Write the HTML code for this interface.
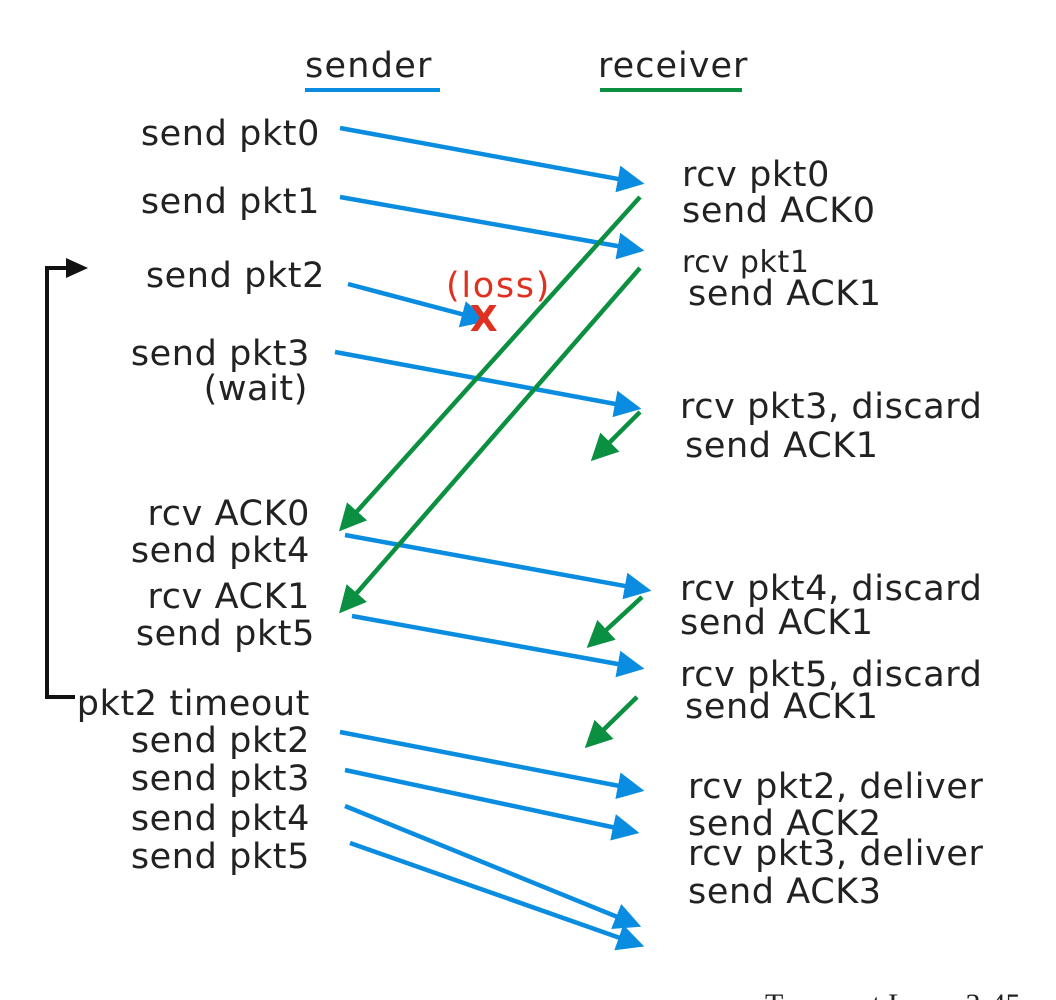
<!DOCTYPE html>
<html><head><meta charset="utf-8"><style>
html,body{margin:0;padding:0;background:#fff;}
svg{display:block}
text{font-family:"DejaVu Sans",sans-serif;font-size:35px;letter-spacing:0.6px;fill:#222;}
.e{text-anchor:end}
</style></head><body>
<svg width="1056" height="1000" viewBox="0 0 1056 1000" xmlns="http://www.w3.org/2000/svg">
<defs>
<marker id="b" markerWidth="6" markerHeight="6" refX="5" refY="3" orient="auto" markerUnits="strokeWidth"><path d="M0,0 L6,3 L0,6 z" fill="#0a8de0"/></marker>
<marker id="g" markerWidth="6" markerHeight="6" refX="5" refY="3" orient="auto" markerUnits="strokeWidth"><path d="M0,0 L6,3 L0,6 z" fill="#0a9040"/></marker>
</defs>
<text x="305" y="77" textLength="127">sender</text>
<line x1="305" y1="90" x2="440" y2="90" stroke="#0a8de0" stroke-width="4"/>
<text x="598" y="77" textLength="150">receiver</text>
<line x1="600" y1="90" x2="742" y2="90" stroke="#0a9040" stroke-width="4"/>

<g stroke="#0a8de0" stroke-width="4.5" marker-end="url(#b)" fill="none">
<line x1="340" y1="128" x2="640" y2="183"/>
<line x1="340" y1="197" x2="640" y2="250"/>
<line x1="348" y1="284" x2="484" y2="320"/>
<line x1="335" y1="352" x2="637" y2="408"/>
<line x1="345" y1="535" x2="647" y2="590"/>
<line x1="352" y1="616" x2="640" y2="668"/>
<line x1="340" y1="732" x2="640" y2="790"/>
<line x1="345" y1="770" x2="635" y2="832"/>
<line x1="345" y1="806" x2="637" y2="925"/>
<line x1="350" y1="843" x2="640" y2="945"/>
</g>
<g stroke="#0a9040" stroke-width="4.5" marker-end="url(#g)" fill="none">
<line x1="640" y1="197" x2="342" y2="528"/>
<line x1="640" y1="268" x2="342" y2="610"/>
<line x1="640" y1="412" x2="594" y2="458"/>
<line x1="642" y1="597" x2="590" y2="645"/>
<line x1="637" y1="697" x2="588" y2="745"/>
</g>
<path d="M75,697 L47,697 L47,268 L70,268" stroke="#111" stroke-width="4" fill="none"/>
<path d="M66,258 L88,268 L66,278 z" fill="#111"/>

<text x="446" y="297" style="fill:#e03020" textLength="104">(loss)</text>
<text x="484" y="331" style="fill:#e03020;font-weight:bold;text-anchor:middle;font-size:36px">X</text>

<text class="e" x="320" y="145">send pkt0</text>
<text class="e" x="320" y="213">send pkt1</text>
<text class="e" x="325" y="287">send pkt2</text>
<text class="e" x="310" y="365">send pkt3</text>
<text class="e" x="308" y="400">(wait)</text>
<text class="e" x="310" y="525">rcv ACK0</text>
<text class="e" x="310" y="562">send pkt4</text>
<text class="e" x="310" y="608">rcv ACK1</text>
<text class="e" x="315" y="645">send pkt5</text>
<text class="e" x="310" y="715">pkt2 timeout</text>
<text class="e" x="310" y="752">send pkt2</text>
<text class="e" x="310" y="790">send pkt3</text>
<text class="e" x="310" y="830">send pkt4</text>
<text class="e" x="310" y="868">send pkt5</text>

<text x="682" y="186">rcv pkt0</text>
<text x="682" y="222">send ACK0</text>
<text x="682" y="272" style="font-size:30px">rcv pkt1</text>
<text x="688" y="305">send ACK1</text>
<text x="680" y="418">rcv pkt3, discard</text>
<text x="685" y="457">send ACK1</text>
<text x="680" y="600">rcv pkt4, discard</text>
<text x="680" y="634">send ACK1</text>
<text x="680" y="686">rcv pkt5, discard</text>
<text x="685" y="718">send ACK1</text>
<text x="688" y="798">rcv pkt2, deliver</text>
<text x="688" y="835">send ACK2</text>
<text x="688" y="865">rcv pkt3, deliver</text>
<text x="688" y="903">send ACK3</text>
<text x="765" y="1014" style="font-family:'Liberation Serif',serif;font-size:30px;letter-spacing:0">Transport Layer  3-45</text>
</svg>
</body></html>
